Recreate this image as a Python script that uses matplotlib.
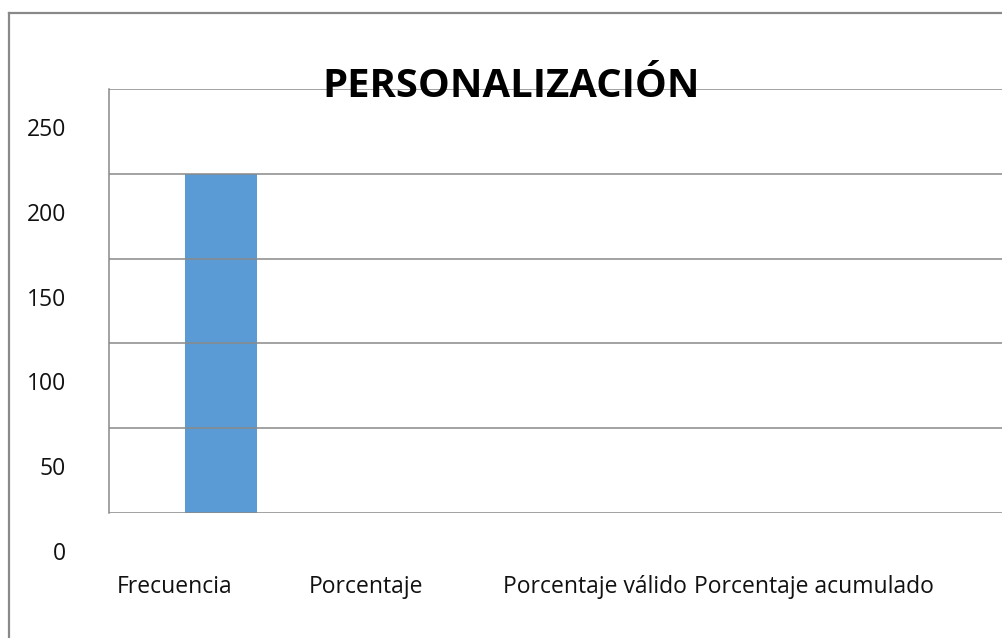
import matplotlib.pyplot as plt
from matplotlib.lines import Line2D

# datos
categorias = ["Frecuencia", "Porcentaje", "Porcentaje válido", "Porcentaje acumulado"]
valores = [200, 0, 0, 0]
marcas_y = [0, 50, 100, 150, 200, 250]
titulo = "PERSONALIZACIÓN"

# desplazamientos de las etiquetas (pixeles), como en el original
desp_x_cat = [-46, -78, -73, -77]

plt.rcParams['font.family'] = ['Open Sans', 'DejaVu Sans']
gris = "#898989"

fig = plt.figure(figsize=(10.03, 6.38), dpi=100, facecolor="white")
ax = fig.add_axes([109 / 1003, 125 / 638, 894 / 1003, 424 / 638])

ax.bar(range(len(categorias)), valores, width=0.32, color="#5B9BD5", zorder=1)
ax.set_xlim(-0.5, 3.5)
ax.set_ylim(0, 250)

# lineas de cuadricula
for v in marcas_y:
    ax.axhline(v, color=gris, lw=1.1, zorder=2)

for s in ["top", "right", "bottom"]:
    ax.spines[s].set_visible(False)
ax.spines["left"].set_color(gris)
ax.spines["left"].set_linewidth(1.1)
ax.set_xticks([])
ax.set_yticks([])

# etiquetas del eje y (desplazadas hacia abajo)
for v in marcas_y:
    ax.annotate(str(v), xy=(0, v), xycoords=("axes fraction", "data"),
                xytext=(-43, -41), textcoords="offset pixels",
                ha="right", va="center", fontsize=16.5, color="#111111")

# etiquetas de categorias
for i, c in enumerate(categorias):
    ax.annotate(c, xy=(i, 0), xycoords="data",
                xytext=(desp_x_cat[i], -74), textcoords="offset pixels",
                ha="center", va="center", fontsize=16.5, color="#111111")

fig.text(511 / 1003, 1 - 97 / 638, titulo, ha="center", va="baseline",
         fontsize=28.8, fontweight="bold", color="black")

# marco exterior
fig.add_artist(Line2D([9 / 1003, 1], [1 - 13 / 638, 1 - 13 / 638],
                      transform=fig.transFigure, color=gris, lw=1.6))
fig.add_artist(Line2D([9 / 1003, 9 / 1003], [0, 1 - 13 / 638],
                      transform=fig.transFigure, color=gris, lw=1.6))

fig.savefig("out.png", dpi=100)
